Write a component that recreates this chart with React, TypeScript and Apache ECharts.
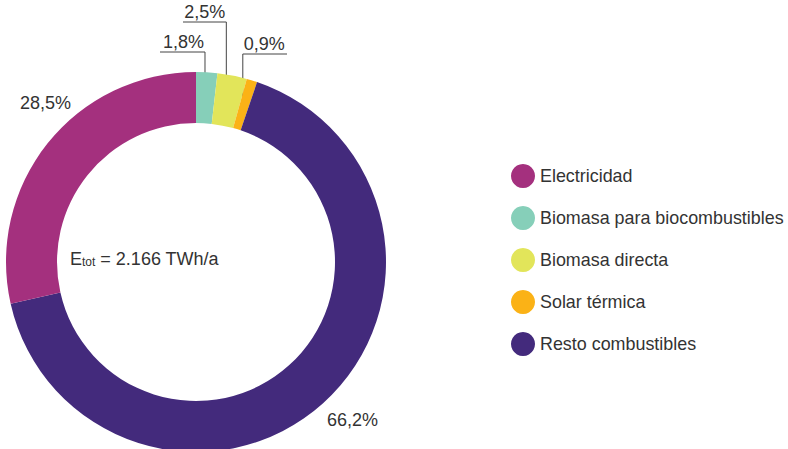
import React, { useEffect, useRef } from "react";
import * as echarts from "echarts";

const categories = [
  "Biomasa para biocombustibles",
  "Biomasa directa",
  "Solar térmica",
  "Resto combustibles",
  "Electricidad",
];
const values = [1.8, 2.5, 0.9, 66.2, 28.5];
const colors = ["#86cfb9", "#e2e55a", "#fbb216", "#432a7c", "#a4307e"];
const legendOrder = [
  "Electricidad",
  "Biomasa para biocombustibles",
  "Biomasa directa",
  "Solar térmica",
  "Resto combustibles",
];
const centerLabel = { main: "E", sub: "tot", rest: " = 2.166 TWh/a" };

const FONT = "'Liberation Sans', Arial, Helvetica, sans-serif";
const CX = 196;
const CY = 262;
const R_IN = 139;
const R_OUT = 190;

export default function App() {
  const ref = useRef<HTMLDivElement>(null);
  useEffect(() => {
    if (!ref.current) return;
    const chart = echarts.init(ref.current, undefined, { renderer: "svg" });
    const total = values.reduce((a, b) => a + b, 0);
    const mids: number[] = [];
    let acc = 0;
    values.forEach((v) => {
      mids.push(((acc + v / 2) / total) * Math.PI * 2);
      acc += v;
    });
    const anchor = (i: number) => {
      const r = 159;
      return [CX + r * Math.sin(mids[i]), CY - r * Math.cos(mids[i])];
    };
    const option: any = {
      animation: false,
      color: colors,
      legend: {
        orient: "vertical",
        left: 511,
        top: 164,
        padding: 0,
        itemWidth: 24,
        itemHeight: 24,
        itemGap: 18,
        icon: "circle",
        data: legendOrder,
        selectedMode: false,
        textStyle: { fontFamily: FONT, fontSize: 17.9, color: "#333" },
      },
      graphic: [
        {
          type: "text",
          left: 70,
          top: 250,
          style: {
            text: `{a|${centerLabel.main}}{b|${centerLabel.sub}}{a|${centerLabel.rest}}`,
            rich: {
              a: { fontFamily: FONT, fontSize: 18, fill: "#333", verticalAlign: "bottom", lineHeight: 20 },
              b: { fontFamily: FONT, fontSize: 12, fill: "#333", verticalAlign: "bottom", lineHeight: 16 },
            },
          },
        },
      ],
      series: [
        {
          type: "pie",
          center: [CX, CY],
          radius: [R_IN, R_OUT],
          startAngle: 90,
          clockwise: true,
          avoidLabelOverlap: false,
          silent: true,
          data: categories.map((name, i) => ({ name, value: values[i] })),
          label: {
            show: true,
            position: "outside",
            fontFamily: FONT,
            fontSize: 18,
            color: "#333",
            formatter: (p: any) => p.value.toFixed(1).replace(".", ",") + "%",
          },
          labelLine: {
            show: true,
            lineStyle: { color: "#444", width: 1, opacity: 1 },
          },
          labelLayout: (params: any) => {
            const i = params.dataIndex;
            const [ax, ay] = anchor(i);
            if (i === 0) {
              return {
                x: ax - 1, y: 51, align: "right", verticalAlign: "bottom",
                labelLinePoints: [[ax, ay], [ax, 52], [160, 52]],
              };
            }
            if (i === 1) {
              return {
                x: ax - 1, y: 21, align: "right", verticalAlign: "bottom",
                labelLinePoints: [[ax, ay], [ax, 22], [183, 22]],
              };
            }
            if (i === 2) {
              return {
                x: ax + 1, y: 53, align: "left", verticalAlign: "bottom",
                labelLinePoints: [[ax, ay], [ax, 54], [287, 54]],
              };
            }
            if (i === 3) {
              return {
                x: 327, y: 420, align: "left", verticalAlign: "middle",
                labelLinePoints: [[0, 0], [0, 0], [0, 0]],
              };
            }
            return {
              x: 20, y: 103, align: "left", verticalAlign: "middle",
              labelLinePoints: [[0, 0], [0, 0], [0, 0]],
            };
          },
        },
      ],
    };
    chart.setOption(option);
    return () => chart.dispose();
  }, []);
  return (
    <div
      ref={ref}
      style={{ position: "fixed", left: 0, top: 0, width: 788, height: 449, background: "#fff" }}
    />
  );
}
